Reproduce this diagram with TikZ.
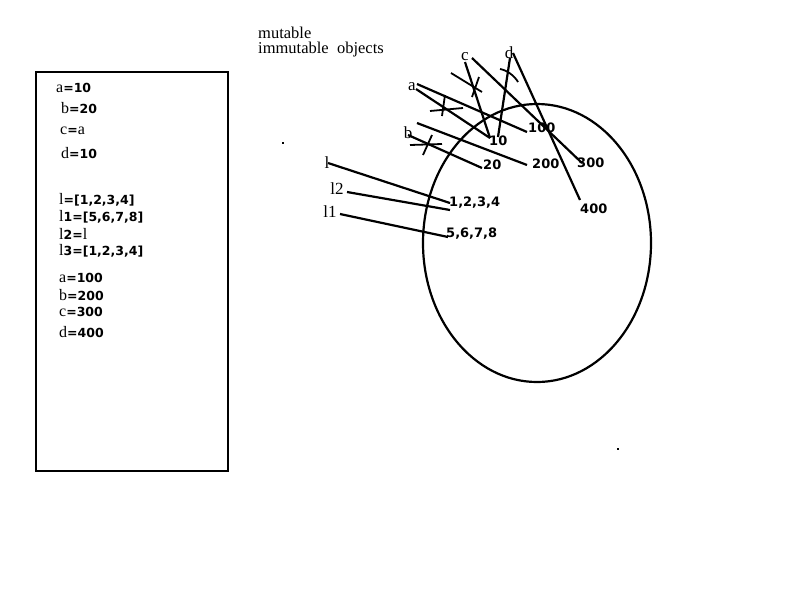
\documentclass[tikz,border=0pt]{standalone}
\usepackage{fontspec}
\setmainfont{Liberation Serif}
\newfontfamily\numfont{DejaVu Sans}[BoldFont={DejaVu Sans Bold}]
\newcommand{\nm}[1]{{\fontsize{12.5}{12.5}\selectfont\numfont\bfseries #1}}
\begin{document}
\begin{tikzpicture}[x=1pt,y=-1pt,
  stroke/.style={line width=2.2pt, black},
  thin stroke/.style={line width=1.8pt, black},
  code/.style={anchor=west, inner sep=0pt, font=\fontsize{16}{16}\selectfont},
  val/.style={anchor=west, inner sep=0pt, font=\fontsize{13}{13}\selectfont\numfont\bfseries},
  lbl/.style={inner sep=0pt, font=\fontsize{17}{17}\selectfont},
  captext/.style={anchor=west, inner sep=0pt, font=\fontsize{16.5}{16.5}\selectfont}]
\useasboundingbox (0,0) rectangle (800,600);
\fill[white] (0,0) rectangle (800,600);

% left box
\draw[stroke] (36,72) rectangle (228,471);
\node[code] (ca) at (56,88) {a\nm{=10}};
\node[code] (cb) at (61,108) {b\nm{=20}};
\node[code] (cc) at (60,131) {c\nm{=}a};
\node[code] (cd) at (61,153) {d\nm{=10}};
\node[code] (cl) at (59,200) {l\nm{=[1,2,3,4]}};
\node[code] (cl1) at (59,217) {l\nm{1=[5,6,7,8]}};
\node[code] (cl2) at (59,234) {l\nm{2=}l};
\node[code] (cl3) at (59,251) {l\nm{3=[1,2,3,4]}};
\node[code] (ca2) at (59,278) {a\nm{=100}};
\node[code] (cb2) at (59,295) {b\nm{=200}};
\node[code] (cc2) at (59,312) {c\nm{=300}};
\node[code] (cd2) at (59,332) {d\nm{=400}};

% captions
\node[captext] (mut) at (258,32.5) {mutable};
\node[captext] (imm) at (258,50) {immutable\ \ objects};

% dots
\fill (281.5,141.5) rectangle ++(2,2);
\fill (617,448) rectangle ++(2,2);

% ellipse
\draw[stroke] (537,243) ellipse [x radius=114, y radius=139];

% variable labels
\node[lbl] (la) at (412,87) {a};
\node[lbl] (lb) at (408,133) {b};
\node[lbl] (lc) at (465,57) {c};
\node[lbl] (ld) at (509,53) {d};
\node[lbl] (ll) at (327,163) {l};
\node[lbl] (ll2) at (337,189) {l2};
\node[lbl] (ll1) at (330,212) {l1};

% values
\node[val] (v10) at (489,141) {10};
\node[val] (v20) at (483,165) {20};
\node[val] (v100) at (528,128) {100};
\node[val] (v200) at (532,164) {200};
\node[val] (v300) at (577,163) {300};
\node[val] (v400) at (580,209) {400};
\node[val] (v1234) at (449,203) {1,2,3,4};
\node[val] (v5678) at (446,234) {5,6,7,8};

% connector end points
\coordinate (a1) at (416,89);
\coordinate (a2) at (417,84);
\coordinate (b1) at (408,135);
\coordinate (b2) at (417,123);
\coordinate (c1) at (465,62);
\coordinate (c2) at (472,58);
\coordinate (d1) at (510,58);
\coordinate (d2) at (513,53);
\coordinate (t10) at (490,138);
\coordinate (t10b) at (498,137);
\coordinate (t100) at (527,132);
\coordinate (t20) at (482,168);
\coordinate (t200) at (527,165);
\coordinate (t300) at (582,163);
\coordinate (t400) at (580,200);
\coordinate (l0) at (328,163);
\coordinate (l20) at (347,192);
\coordinate (l10) at (340,214);
\coordinate (tl) at (450,203);
\coordinate (tl2) at (450,210);
\coordinate (tl1) at (448,237);

% connectors
\draw[stroke] (a1) -- (t10);
\draw[stroke] (a2) -- (t100);
\draw[stroke] (b1) -- (t20);
\draw[stroke] (b2) -- (t200);
\draw[stroke] (c1) -- (t10);
\draw[stroke] (c2) -- (t300);
\draw[stroke] (d1) -- (t10b);
\draw[stroke] (d2) -- (t400);
\draw[stroke] (l0) -- (tl);
\draw[stroke] (l20) -- (tl2);
\draw[stroke] (l10) -- (tl1);

% crosses (broken references)
\draw[thin stroke] (430,111) -- (463,108);
\draw[thin stroke] (445,95) -- (442,116);
\draw[thin stroke] (451,73) -- (482,92);
\draw[thin stroke] (479,77) -- (472,97);
\draw[thin stroke] (500,69) .. controls (506,70) and (514,75) .. (518,82);
\draw[thin stroke] (410,145) -- (442,144);
\draw[thin stroke] (432,135) -- (423,155);
\end{tikzpicture}
\end{document}
